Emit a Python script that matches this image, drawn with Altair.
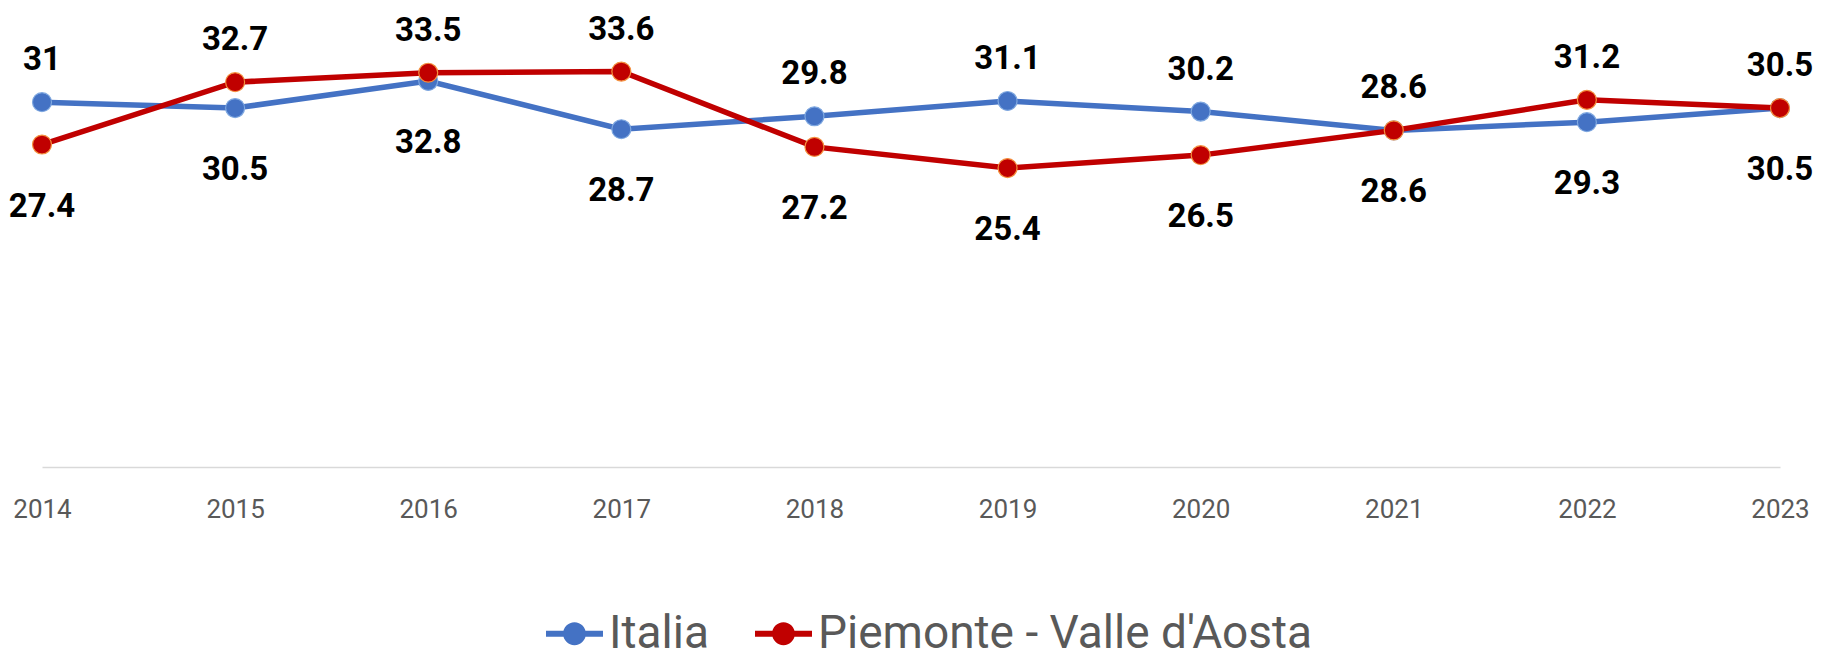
import altair as alt
import pandas as pd

years = ["2014", "2015", "2016", "2017", "2018", "2019", "2020", "2021", "2022", "2023"]
italia = [31, 30.5, 32.8, 28.7, 29.8, 31.1, 30.2, 28.6, 29.3, 30.5]
piemonte = [27.4, 32.7, 33.5, 33.6, 27.2, 25.4, 26.5, 28.6, 31.2, 30.5]
series_names = ["Italia", "Piemonte - Valle d'Aosta"]
line_colors = ["#4472C4", "#C00000"]
marker_edges = ["#7FA8E0", "#F4913F"]

rows = []
for i, (name, vals, others) in enumerate(
    [(series_names[0], italia, piemonte), (series_names[1], piemonte, italia)]
):
    for y, v, o in zip(years, vals, others):
        above = (v > o) or (v == o and i == 1)
        rows.append({"year": y, "value": v, "series": name, "label": f"{v:g}",
                     "pos": "above" if above else "below"})
df = pd.DataFrame(rows)

FONT = "Roboto"
x_enc = alt.X(
    "year:O",
    scale=alt.Scale(type="point", padding=0),
    axis=alt.Axis(title=None, labelAngle=0, ticks=False, grid=False,
                  domainColor="#D9D9D9", domainWidth=1.5,
                  labelFont=FONT, labelFontSize=26, labelColor="#595959",
                  labelPadding=29),
)
y_enc = alt.Y("value:Q", scale=alt.Scale(domain=[0, 39], nice=False, zero=True), axis=None)

sym_path = ("M-1,-0.105L1,-0.105L1,0.105L-1,0.105Z "
            "M0.4,0A0.4,0.4 0 1,1 -0.4,0A0.4,0.4 0 1,1 0.4,0Z")

fill_scale = alt.Scale(domain=series_names, range=line_colors)
legend = alt.Legend(
    title=None, orient="none", direction="horizontal", legendX=504, legendY=597,
    symbolType=sym_path, symbolSize=3249, symbolStrokeWidth=0, symbolOpacity=1,
    labelFont=FONT, labelFontSize=46, labelColor="#595959", labelLimit=2000,
    labelOffset=6, columnPadding=46,
)

base = alt.Chart(df)
layers = []
for i, name in enumerate(series_names):
    sub = base.transform_filter(alt.datum.series == name)
    layers.append(
        sub.mark_line(strokeWidth=5.5).encode(
            x=x_enc, y=y_enc, stroke=alt.value(line_colors[i]))
    )
    layers.append(
        sub.mark_point(filled=True, opacity=1, size=360, strokeWidth=1.2,
                       stroke=marker_edges[i]).encode(
            x=x_enc, y=y_enc,
            fill=alt.Fill("series:N", scale=fill_scale, legend=legend),
        )
    )

text_common = dict(font=FONT, fontSize=33, fontWeight="bold", color="#000000",
                   baseline="middle", align="center")
above_text = base.transform_filter(alt.datum.pos == "above").mark_text(
    dy=-42, **text_common).encode(x=x_enc, y=y_enc, text="label:N")
below_text = base.transform_filter(alt.datum.pos == "below").mark_text(
    dy=62, **text_common).encode(x=x_enc, y=y_enc, text="label:N")
layers += [above_text, below_text]

chart = alt.layer(*layers).properties(
    width=1738, height=459,
    padding={"left": 34, "top": 0, "right": 35, "bottom": 194},
    autosize=alt.AutoSizeParams(type="none"),
).configure_view(stroke=None)

chart.save("out.html", embed_options={"renderer": "svg", "actions": False})
